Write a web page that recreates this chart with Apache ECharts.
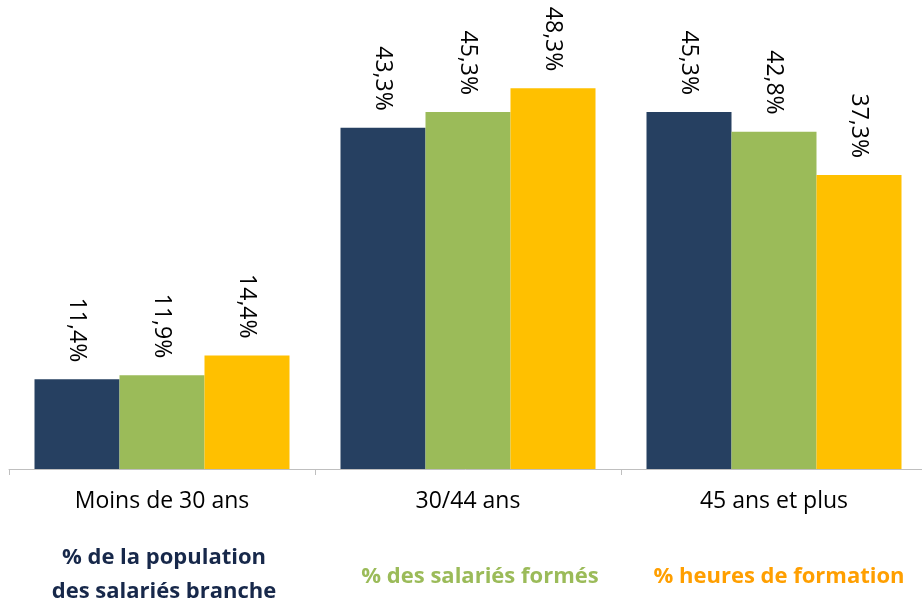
<!DOCTYPE html>
<html>
<head>
<meta charset="utf-8">
<script src="https://cdn.jsdelivr.net/npm/echarts@6/dist/echarts.min.js"></script>
<style>html,body{margin:0;padding:0;background:#fff}#c{width:922px;height:608px}</style>
</head>
<body>
<div id="c"></div>
<script>
const categories = ['Moins de 30 ans', '30/44 ans', '45 ans et plus'];
const seriesNames = ['% de la population\ndes salariés branche', '% des salariés formés', '% heures de formation'];
const popBranche = [11.4, 43.3, 45.3];
const salariesFormes = [11.9, 45.3, 42.8];
const heuresFormation = [14.4, 48.3, 37.3];

const barColors = ['#264061', '#9BBB59', '#FFC000'];
const legendColors = ['#17284A', '#9BBB59', '#FF9F00'];
const FONT = '"Open Sans", "Liberation Sans", sans-serif';

const chart = echarts.init(document.getElementById('c'));
const values = [popBranche, salariesFormes, heuresFormation];
const legendX = [164, 480, 779];
const legendY = [575, 577, 577];

chart.setOption({
  animation: false,
  grid: { left: 9, width: 918, top: 0, bottom: 139, containLabel: false, outerBoundsMode: 'none' },
  xAxis: {
    type: 'category',
    data: categories,
    axisLine: { lineStyle: { color: '#BFBFBF', width: 1 } },
    axisTick: { show: true, length: 6, lineStyle: { color: '#BFBFBF' } },
    axisLabel: { color: '#000', fontSize: 23, fontFamily: FONT, margin: 21 }
  },
  yAxis: { type: 'value', min: 0, max: 59.5, show: false, splitLine: { show: false } },
  series: values.map((v, i) => ({
    type: 'bar',
    name: seriesNames[i],
    data: v,
    barWidth: 85,
    barGap: '0%',
    itemStyle: { color: barColors[i] },
    label: {
      show: true,
      position: 'top',
      rotate: -90,
      align: 'right',
      verticalAlign: 'middle',
      distance: 17,
      color: '#000',
      fontSize: 23,
      fontFamily: FONT,
      formatter: p => p.value.toFixed(1).replace('.', ',') + '%'
    }
  })),
  graphic: seriesNames.map((n, i) => ({
    type: 'text',
    x: legendX[i],
    y: legendY[i],
    style: {
      text: n,
      fill: legendColors[i],
      font: 'bold 22px ' + FONT,
      textAlign: 'center',
      textVerticalAlign: 'middle',
      lineHeight: 34
    }
  }))
});
</script>
</body>
</html>
